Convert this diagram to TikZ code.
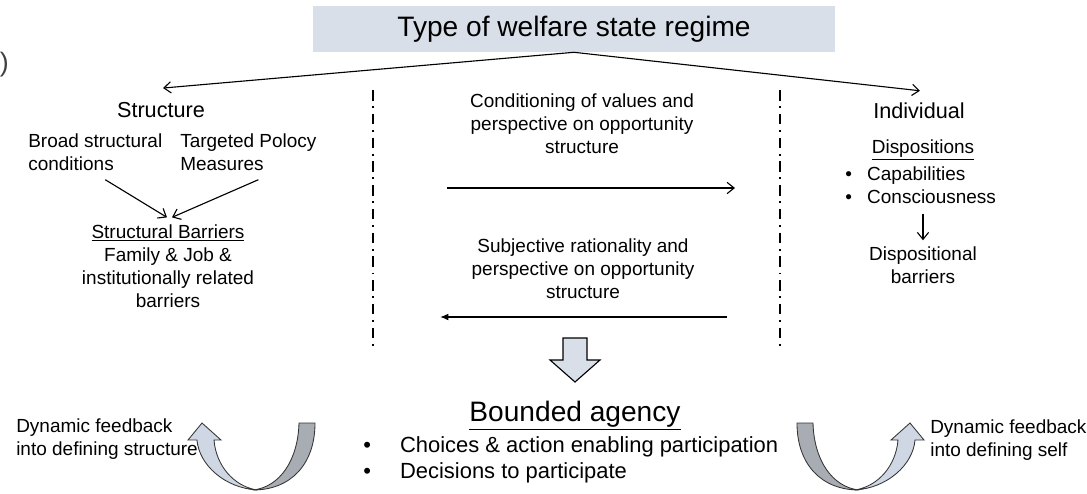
\documentclass[tikz,border=0pt]{standalone}
\usepackage{fontspec}
\setmainfont{Liberation Sans}
\usepackage{xcolor}
\definecolor{regime}{RGB}{216,223,232}
\definecolor{backarm}{RGB}{168,173,179}
\definecolor{frontarm}{RGB}{206,215,227}
\usepackage{tikz}
\usetikzlibrary{positioning}
\usetikzlibrary{calc}
\usetikzlibrary{arrows.meta}

\begin{document}
\begin{tikzpicture}[x=0.025cm,y=-0.025cm]
    \useasboundingbox (0,0) rectangle (1087,494);
    \tikzstyle{every node}=[inner sep=0pt,font=\fontsize{13.5}{16.3}\selectfont]
    \tikzstyle{head}=[font=\fontsize{15.4}{18}\selectfont]
    \tikzstyle{link}=[line width=0.8pt,-{Straight Barb[length=5pt,width=8pt]}]
    \tikzstyle{divider}=[line width=1pt,dash pattern=on 7.5pt off 4pt on 1.4pt off 4pt]
    \tikzstyle{uturn}=[line width=0.6pt,draw=black!80]

    \node (title) at (574,29) [fill=regime,minimum width=13.05cm,minimum height=1.15cm,font=\fontsize{20}{24}\selectfont] {Type of welfare state regime};
    \node (paren) [anchor=east,font=\fontsize{19}{22}\selectfont,text=black!75] at (9,65) {)};

    % structure side
    \node (struct) [head] at (161,110) {Structure};
    \node (broad) [anchor=west,align=left] at (28,152) {Broad structural\\conditions};
    \node (target) [anchor=west,align=left] at (180,152) {Targeted Polocy\\Measures};
    \node (barr) [align=center] at (168,266) {\underline{Structural Barriers}\\Family \& Job \&\\institutionally related\\barriers};

    \draw[link] (title.south) -- ($(struct.north)+(2,-14)$);
    \draw[link] ($(broad.south)+(10,9)$) -- ($(barr.north)+(-1,-7)$);
    \draw[link] ($(target.south)+(10,9)$) -- ($(barr.north)+(4,-7)$);

    % individual side
    \node (indiv) [head] at (919,111) {Individual};
    \node (disp) at (923,150) {\underline{Dispositions}};
    \node (capab) [anchor=west,align=left] at (845,185) {\makebox[15.6pt][l]{\textbullet}Capabilities\\\makebox[15.6pt][l]{\textbullet}Consciousness};
    \node (dispb) [align=center] at (923,265) {Dispositional\\barriers};

    \draw[link] (title.south) -- ($(indiv.north)+(1,-12)$);
    \draw[link] ($(capab.south -| dispb)+(0,10)$) -- ($(dispb.north)+(0,-6)$);

    % middle
    \node (cond) [align=center] at (582,124) {Conditioning of values and\\perspective on opportunity\\structure};
    \node (subj) [align=center] at (583,269) {Subjective rationality and\\perspective on opportunity\\structure};
    \coordinate (cL) at (447,188);
    \coordinate (cR) at (735,188);
    \coordinate (sR) at (727,317);
    \coordinate (sL) at (440,317);
    \draw[link] (cL) -- (cR);
    \draw[line width=1.1pt,-{Latex[length=6pt,width=5pt]}] (sR) -- (sL);

    \coordinate (dl1) at (373,90);
    \coordinate (dl2) at (373,348);
    \coordinate (dr1) at (780,90);
    \coordinate (dr2) at (780,348);
    \draw[divider] (dl1) -- (dl2);
    \draw[divider] (dr1) -- (dr2);

    \draw[fill=regime,line width=0.8pt] (563,338) -- (587,338) -- (587,360) -- (600,360) -- (575,382) -- (550,360) -- (563,360) -- cycle;

    \node (bound) [font=\fontsize{20}{24}\selectfont] at (575,416) {\underline{Bounded agency}};
    \node (choice) [anchor=west,align=left,font=\fontsize{15.6}{18.4}\selectfont] at (363,460) {\makebox[26.2pt][l]{\textbullet}Choices \& action enabling participation\\\makebox[26.2pt][l]{\textbullet}Decisions to participate};

    % feedback loops
    \node (fbl) [anchor=west,align=left] at (16,439) {Dynamic feedback\\into defining structure};
    \node (fbr) [anchor=west,align=left] at (930,440) {Dynamic feedback\\into defining self};

    \foreach \bx/\fl in {255/-1,857/1} {
    \begin{scope}[shift={(\bx,490)},xscale=\fl]
      \draw[uturn,fill=backarm] (-60,-67) -- (-44,-67) .. controls (-43,-30) and (-25,-3) .. (2,0) .. controls (-35,0) and (-60,-25) .. (-60,-67) -- cycle;
      \draw[uturn,fill=frontarm] (-2,0) .. controls (30,-2) and (56,-25) .. (58,-50) -- (67,-50) -- (53,-67) -- (34,-50) -- (41,-50) .. controls (39,-25) and (22,-4) .. (-2,0) -- cycle;
    \end{scope}
    }
  \end{tikzpicture}
\end{document}
